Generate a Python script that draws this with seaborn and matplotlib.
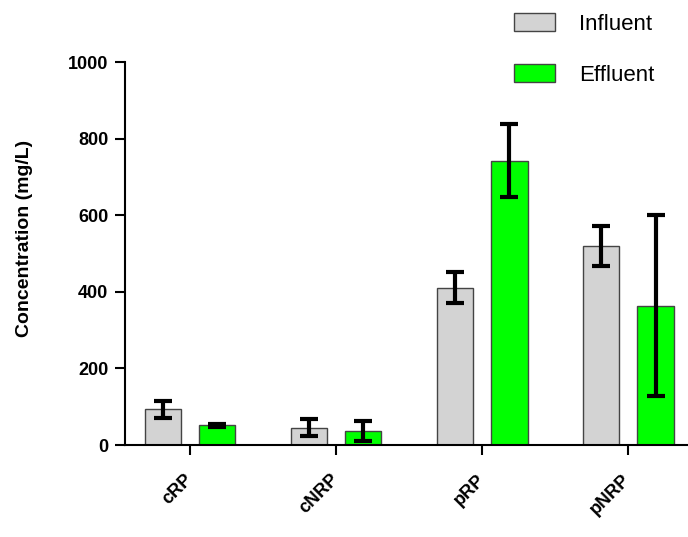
import numpy as np
import pandas as pd
import matplotlib
matplotlib.use("Agg")
import matplotlib.pyplot as plt
import seaborn as sns
from matplotlib.patches import Patch

categories = ["cRP", "cNRP", "pRP", "pNRP"]
series = ["Influent", "Effluent"]
influent_mean = [93, 45, 411, 520]
influent_err = [22, 22, 40, 53]
effluent_mean = [51, 37, 742, 364]
effluent_err = [5, 27, 95, 237]
y_ticks = [0, 200, 400, 600, 800, 1000]

colors = {"Influent": "#d3d3d3", "Effluent": "#00ff00"}

df = pd.DataFrame({
    "category": categories * 2,
    "series": ["Influent"] * 4 + ["Effluent"] * 4,
    "value": influent_mean + effluent_mean,
})

sns.set_style("white")
plt.rcParams["font.family"] = ["Liberation Sans", "DejaVu Sans"]
plt.rcParams["text.color"] = "black"
plt.rcParams["axes.labelcolor"] = "black"
plt.rcParams["xtick.color"] = "black"
plt.rcParams["ytick.color"] = "black"

fig = plt.figure(figsize=(6.88, 5.37), dpi=100)
ax = fig.add_axes([0.1817, 0.1713, 0.8183, 0.7132])

sns.barplot(data=df, x="category", y="value", hue="series", order=categories,
            hue_order=series, palette=colors, saturation=1, width=0.75, gap=0.34,
            errorbar=None, edgecolor="#444444", linewidth=1.0, ax=ax,
            legend=False)

errs = {"Influent": influent_err, "Effluent": effluent_err}
for cont, s in zip(ax.containers, series):
    xs = [b.get_x() + b.get_width() / 2 for b in cont]
    ys = [b.get_height() for b in cont]
    ax.errorbar(xs, ys, yerr=errs[s], fmt="none", ecolor="black",
                elinewidth=3, capsize=6.5, capthick=3, zorder=5)

ax.set_xlim(-0.445, 3.41)
ax.set_ylim(0, 1000)
ax.set_yticks(y_ticks)
ax.set_yticklabels([str(t) for t in y_ticks], fontsize=13, fontweight="bold")
ax.set_xticks(range(len(categories)))
ax.set_xticklabels(categories, fontsize=13, fontweight="bold", rotation=45,
                   ha="right", va="center", rotation_mode="anchor")
ax.set_xlabel("")
ax.set_ylabel("Concentration (mg/L)", fontsize=14, fontweight="bold")
ax.yaxis.set_label_coords(-0.163, 0.54)

for sp in ["top", "right"]:
    ax.spines[sp].set_visible(False)
for sp in ["left", "bottom"]:
    ax.spines[sp].set_linewidth(1.5)
    ax.spines[sp].set_color("black")
ax.tick_params(axis="both", direction="out", length=7, width=1.5,
               left=True, bottom=True)
ax.tick_params(axis="y", pad=5)
ax.tick_params(axis="x", pad=16)

handles = [Patch(facecolor=colors[s], edgecolor="#444444", linewidth=1.0) for s in series]
fig.legend(handles, series, loc="upper left", bbox_to_anchor=(514 / 688, 1 - 13 / 537),
           frameon=False, fontsize=16, handlelength=1.86, handleheight=0.9,
           labelspacing=1.3, handletextpad=1.05, borderpad=0, borderaxespad=0)

fig.savefig("out.png", dpi=100)
